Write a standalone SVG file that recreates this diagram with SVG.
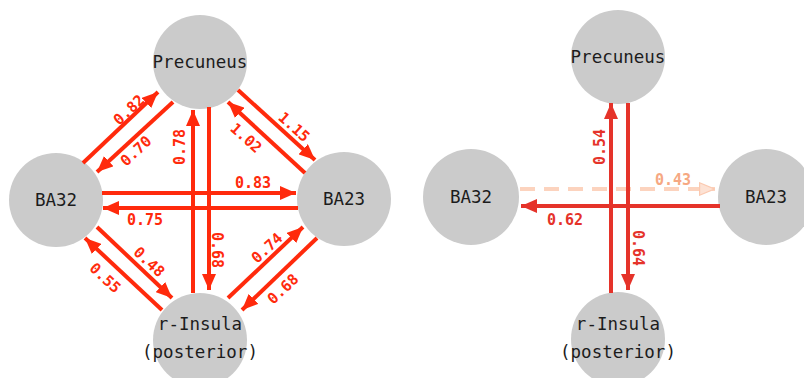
<svg xmlns="http://www.w3.org/2000/svg" width="804" height="378" viewBox="0 0 804 378">
  <style>
    .node { fill: #cbcbcb; }
    .nlabel { font-family: "DejaVu Sans Mono", "Liberation Mono", monospace; font-size: 17.5px; fill: #1c1c1c; text-anchor: middle; dominant-baseline: central; }
    .edgeA { stroke: #ff2a0c; stroke-width: 4; fill: none; marker-end: url(#headA); }
    .edgeB { stroke: #e5332a; stroke-width: 4; fill: none; marker-end: url(#headB); }
    .edgeC { stroke: #fcd3be; stroke-width: 4; fill: none; stroke-dasharray: 15 9; marker-end: url(#headC); }
    .wA { font-family: "DejaVu Sans Mono", "Liberation Mono", monospace; font-size: 15px; font-weight: bold; fill: #ff2a0c; text-anchor: middle; dominant-baseline: central; }
    .wB { font-family: "DejaVu Sans Mono", "Liberation Mono", monospace; font-size: 15px; font-weight: bold; fill: #e5332a; text-anchor: middle; dominant-baseline: central; }
    .wC { font-family: "DejaVu Sans Mono", "Liberation Mono", monospace; font-size: 15px; font-weight: bold; fill: #f6a882; text-anchor: middle; dominant-baseline: central; }
  </style>
  <defs>
    <marker id="headA" markerUnits="userSpaceOnUse" markerWidth="16" markerHeight="14" refX="16" refY="7" orient="auto">
      <path d="M0,0 L16,7 L0,14 z" fill="#ff2a0c"/>
    </marker>
    <marker id="headB" markerUnits="userSpaceOnUse" markerWidth="16" markerHeight="14" refX="16" refY="7" orient="auto">
      <path d="M0,0 L16,7 L0,14 z" fill="#e5332a"/>
    </marker>
    <marker id="headC" markerUnits="userSpaceOnUse" markerWidth="16" markerHeight="14" refX="16" refY="7" orient="auto">
      <path d="M0.6,0.8 L15.4,7 L0.6,13.2 z" fill="#fde2d4" stroke="#fbc9b0" stroke-width="1.2"/>
    </marker>
  </defs>
  <rect width="804" height="378" fill="#ffffff"/>

  <!-- left network: nodes -->
  <g id="L-precuneus"><circle class="node" cx="200" cy="62" r="47"/><text class="nlabel" x="200" y="62">Precuneus</text></g>
  <g id="L-ba32"><circle class="node" cx="56" cy="200" r="47"/><text class="nlabel" x="56" y="200">BA32</text></g>
  <g id="L-ba23"><circle class="node" cx="344" cy="199" r="47"/><text class="nlabel" x="344" y="199">BA23</text></g>
  <g id="L-insula"><circle class="node" cx="200" cy="340" r="47"/><text class="nlabel" x="200" y="324">r-Insula</text><text class="nlabel" x="200" y="352">(posterior)</text></g>

  <!-- right network: nodes -->
  <g id="R-precuneus"><circle class="node" cx="618" cy="57" r="47"/><text class="nlabel" x="618" y="57">Precuneus</text></g>
  <g id="R-ba32"><circle class="node" cx="471" cy="197" r="48"/><text class="nlabel" x="471" y="197">BA32</text></g>
  <g id="R-ba23"><circle class="node" cx="766" cy="197" r="48"/><text class="nlabel" x="766" y="197">BA23</text></g>
  <g id="R-insula"><circle class="node" cx="618" cy="339" r="47"/><text class="nlabel" x="618" y="324">r-Insula</text><text class="nlabel" x="618" y="352">(posterior)</text></g>

  <!-- connectors -->
  <g id="connectors">
    <line class="edgeA" x1="83" y1="163" x2="158" y2="92"/>
    <line class="edgeA" x1="173" y1="102" x2="97" y2="172"/>
    <line class="edgeA" x1="193" y1="293" x2="193" y2="110"/>
    <line class="edgeA" x1="209" y1="107" x2="209" y2="290"/>
    <line class="edgeA" x1="238" y1="90" x2="315" y2="160"/>
    <line class="edgeA" x1="305" y1="173" x2="228" y2="102"/>
    <line class="edgeA" x1="102" y1="193" x2="296" y2="193"/>
    <line class="edgeA" x1="298" y1="208" x2="103" y2="208"/>
    <line class="edgeA" x1="97" y1="227" x2="172" y2="298"/>
    <line class="edgeA" x1="162" y1="310" x2="85" y2="238"/>
    <line class="edgeA" x1="228" y1="298" x2="303" y2="227"/>
    <line class="edgeA" x1="317" y1="238" x2="242" y2="310"/>

    <line class="edgeC" x1="520" y1="189" x2="715" y2="189"/>
    <line class="edgeB" x1="611" y1="293" x2="611" y2="103"/>
    <line class="edgeB" x1="628" y1="103" x2="628" y2="290"/>
    <line class="edgeB" x1="720" y1="206" x2="521" y2="206"/>
  </g>

  <!-- connection weights -->
  <g id="weights">
    <text class="wA" transform="translate(129,110) rotate(-43)">0.82</text>
    <text class="wA" transform="translate(136,151) rotate(-43)">0.70</text>
    <text class="wA" transform="translate(180,147) rotate(-90)">0.78</text>
    <text class="wA" transform="translate(294,127) rotate(42)">1.15</text>
    <text class="wA" transform="translate(246,138) rotate(42)">1.02</text>
    <text class="wA" x="253" y="183">0.83</text>
    <text class="wA" x="145" y="220">0.75</text>
    <text class="wA" transform="translate(217,250) rotate(90)">0.68</text>
    <text class="wA" transform="translate(149,262) rotate(43)">0.48</text>
    <text class="wA" transform="translate(105,278) rotate(43)">0.55</text>
    <text class="wA" transform="translate(267,248) rotate(-43)">0.74</text>
    <text class="wA" transform="translate(283,289) rotate(-43)">0.68</text>

    <text class="wB" transform="translate(600,147) rotate(-90)">0.54</text>
    <text class="wB" transform="translate(638,248) rotate(90)">0.64</text>
    <text class="wB" x="565" y="220">0.62</text>
    <text class="wC" x="673" y="180">0.43</text>
  </g>
</svg>
